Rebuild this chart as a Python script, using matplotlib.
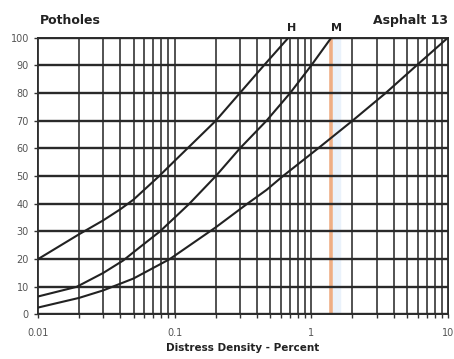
import numpy as np
import matplotlib
matplotlib.use("Agg")
import matplotlib.pyplot as plt
from matplotlib.ticker import LogLocator, FixedLocator, NullFormatter

# curves (distress density %, deduct value)
h_x = [0.01, 0.02, 0.03, 0.04, 0.05, 0.077, 0.1, 0.2, 0.3, 0.45, 0.68]
h_y = [20, 29, 34, 38, 41.5, 50, 55.5, 70, 80, 90, 100]

m_x = [0.01, 0.0192, 0.03, 0.042, 0.05, 0.078, 0.1, 0.128, 0.2, 0.3, 0.47, 0.7, 1.0, 1.4]
m_y = [6.5, 10, 15, 19.5, 22.5, 30, 35, 40, 50, 60, 70, 80, 90, 100]

l_x = [0.01, 0.02, 0.03, 0.035, 0.05, 0.092, 0.129, 0.2, 0.34, 0.47, 0.62, 1.12, 2.0, 3.5, 5.9, 10]
l_y = [2.5, 6, 8.7, 10, 13, 20, 25, 31.5, 40, 45, 50, 60, 70, 80, 90, 100]

marker_x = 1.4
x_ticks = [0.01, 0.1, 1, 10]
x_tick_labels = ["0.01", "0.1", "1", "10"]
y_ticks = list(range(0, 101, 10))

fig = plt.figure(figsize=(4.54, 3.59), dpi=100)
ax = fig.add_axes([0.0837, 0.124, 0.903, 0.771])

ax.set_xscale("log")
ax.set_xlim(0.01, 10)
ax.set_ylim(0, 100)

# light marker band
ax.axvspan(1.45, 1.62, color="#eaf2fb", zorder=0)
ax.axvline(marker_x, color="#eeae85", lw=2.6, zorder=1)

ax.xaxis.set_major_locator(FixedLocator(x_ticks))
ax.xaxis.set_minor_locator(LogLocator(base=10, subs=np.arange(2, 10)))
ax.xaxis.set_minor_formatter(NullFormatter())
ax.set_xticklabels(x_tick_labels)
ax.set_yticks(y_ticks)

ax.grid(True, which="both", axis="x", color="#444444", lw=1.3, zorder=2)
ax.grid(True, which="major", axis="y", color="#2a2a2a", lw=1.7, zorder=2)
ax.set_axisbelow(False)

for xs, ys in [(h_x, h_y), (m_x, m_y), (l_x, l_y)]:
    ax.plot(xs, ys, color="#222222", lw=1.5, zorder=3)

for sp in ax.spines.values():
    sp.set_color("#2a2a2a")
    sp.set_linewidth(1.4)

ax.tick_params(axis="both", which="both", direction="out", length=3, width=1,
               color="#333333", labelsize=7, labelcolor="#555555")
ax.tick_params(axis="x", pad=7)

ax.set_xlabel("Distress Density - Percent", fontsize=7.5, fontweight="bold",
              color="#222222", labelpad=3)

fig.text(0.088, 0.942, "Potholes", fontsize=9, fontweight="bold", color="#222222",
         va="center", ha="left")
fig.text(0.987, 0.942, "Asphalt 13", fontsize=9, fontweight="bold", color="#222222",
         va="center", ha="right")
fig.text(0.643, 0.922, "H", fontsize=8, fontweight="bold", color="#222222",
         va="center", ha="center")
fig.text(0.742, 0.922, "M", fontsize=8, fontweight="bold", color="#222222",
         va="center", ha="center")

fig.savefig("out.png", dpi=100, facecolor="white")
